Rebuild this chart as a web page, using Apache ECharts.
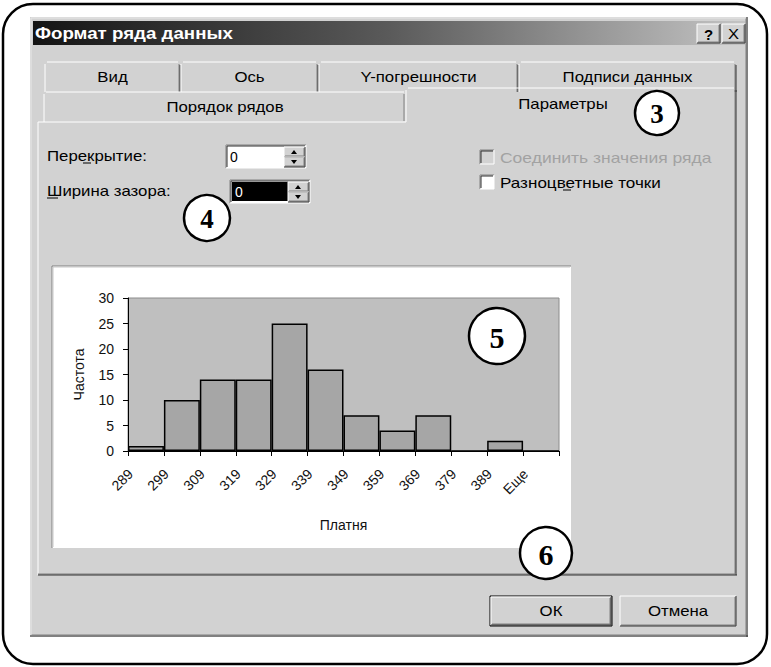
<!DOCTYPE html>
<html><head><meta charset="utf-8">
<script src="https://cdn.jsdelivr.net/npm/echarts@6/dist/echarts.min.js"></script>
<style>html,body{margin:0;padding:0;background:#fff;}#c{width:771px;height:667px;}</style>
</head><body><div id="c"></div>
<script>
// ---- data ----
const categories = ['289','299','309','319','329','339','349','359','369','379','389','Еще'];
const frequencies = [1,10,14,14,25,16,7,4,7,0,2,0];
const yMin = 0, yMax = 30, yStep = 5;
const xTitle = 'Платня';
const yTitle = 'Частота';
const dialogTitle = 'Формат ряда данных';
const tabsRow1 = ['Вид','Ось','Y-погрешности','Подписи данных'];
const tabsRow2 = ['Порядок рядов','Параметры'];
const fieldLabels = ['Перекрытие:','Ширина зазора:'];
const fieldValues = ['0','0'];
const checkLabels = ['Соединить значения ряда','Разноцветные точки'];
const buttonLabels = ['ОК','Отмена'];
const calloutNumbers = ['3','4','5','6'];

// ---- dialog drawing helpers ----
const BG = '#d2d2d2', DARK = '#808080', BLK = '#303030', WHT = '#ffffff';
const UI = '"Liberation Sans", Arial, sans-serif';
const els = [];
function rect(x,y,w,h,fill,stroke,lw,z){els.push({type:'rect',z:z==null?-5:z,silent:true,shape:{x:x,y:y,width:w,height:h},style:{fill:fill,stroke:stroke||null,lineWidth:lw||1}});}
function line(x1,y1,x2,y2,c,lw,z){els.push({type:'line',z:z==null?-4:z,silent:true,shape:{x1:x1,y1:y1,x2:x2,y2:y2},style:{stroke:c,lineWidth:lw||1}});}
function txt(x,y,t,o){o=o||{};els.push({type:'text',x:x,y:y,z:o.z==null?-3:o.z,scaleX:o.sx==null?1.2:o.sx,silent:true,
  style:{text:t,font:o.font||('14px '+UI),fill:o.fill||'#000',align:o.align||'left',textAlign:o.align||'left',verticalAlign:'middle',textVerticalAlign:'middle'}});}
function raised(x,y,w,h,z){
  line(x,y+h,x,y,WHT,1,z);line(x,y,x+w,y,WHT,1,z);
  line(x+w-1,y+1,x+w-1,y+h-1,DARK,1,z);line(x+1,y+h-1,x+w-1,y+h-1,DARK,1,z);
  line(x+w,y,x+w,y+h,BLK,1,z);line(x,y+h,x+w,y+h,BLK,1,z);
}
function sunken(x,y,w,h,z){
  line(x,y+h,x,y,DARK,1,z);line(x,y,x+w,y,DARK,1,z);
  line(x+1,y+h-1,x+1,y+1,BLK,1,z);line(x+1,y+1,x+w-1,y+1,BLK,1,z);
  line(x+w,y,x+w,y+h,WHT,1,z);line(x,y+h,x+w,y+h,WHT,1,z);
}
function tri(cx,cy,up,z){els.push({type:'polygon',z:z==null?-3:z,silent:true,shape:{points:up?[[cx-3,cy+2],[cx+3,cy+2],[cx,cy-2]]:[[cx-3,cy-2],[cx+3,cy-2],[cx,cy+2]]},style:{fill:'#000'}});}

// outer rounded frame
els.push({type:'rect',z:-10,silent:true,shape:{x:3,y:4,width:764,height:660,r:30},style:{fill:'#fff',stroke:'#000',lineWidth:2.5}});
// dialog body
rect(30,17,718,620,BG,null,1,-9);
line(747,17,747,637,BLK,1,-8);line(30,636,748,636,BLK,1,-8);
line(746,18,746,635,DARK,1,-8);line(31,635,746,635,DARK,1,-8);
line(31,18,746,18,'#e8e8e8',1,-8);line(31,18,31,635,'#e8e8e8',1,-8);
// title bar
els.push({type:'rect',z:-8,silent:true,shape:{x:33,y:21,width:712,height:24},
  style:{fill:new echarts.graphic.LinearGradient(0,0,1,0,[{offset:0,color:'#141414'},{offset:0.5,color:'#5a5a5a'},{offset:1,color:'#c4c4c4'}])}});
txt(35,33,dialogTitle,{font:'bold 16px '+UI,fill:'#fff',sx:1.17});
// ? and X buttons
rect(697,24,23,19,BG,null,1,-7);raised(697,24,23,19,-6);
rect(722,24,23,19,BG,null,1,-7);raised(722,24,23,19,-6);
txt(708.5,34,'?',{font:'bold 15px '+UI,align:'center',sx:1});
txt(733.5,34,'X',{font:'15px '+UI,align:'center',sx:1.1});

// tabs row 1
const r1 = [44,180,318,518,736];
for(let i=0;i<4;i++){
  const x1=r1[i]+1,x2=r1[i+1];
  line(x1,92,x1,64,WHT,1,-6);line(x1+2,62,x2-2,62,WHT,1,-6);
  line(x2-1,64,x2-1,92,DARK,1,-6);line(x2,65,x2,92,BLK,1,-6);
  txt((x1+x2)/2,77,tabsRow1[i],{align:'center'});
}
// tabs row 2
line(44,122,44,94,WHT,1,-6);line(46,92,404,92,WHT,1,-6);line(404,94,404,121,DARK,1,-6);
txt(225,107,tabsRow2[0],{align:'center'});
// selected tab
rect(406,88,330,36,BG,null,1,-7);
line(406,122,406,90,WHT,1,-6);line(408,88,734,88,WHT,1,-6);
line(735,90,735,574,DARK,1,-6);line(736,90,736,575,BLK,1,-6);
txt(563,104,tabsRow2[1],{align:'center'});
// panel
line(38,122,406,122,WHT,1,-6);line(38,122,38,575,WHT,1,-6);
line(38,574,736,574,DARK,1,-6);line(38,575,737,575,BLK,1,-6);

// fields
txt(47,156,fieldLabels[0]);
line(83,163,91,163,'#000',1,-3);
txt(47,191,fieldLabels[1]);
line(47,198,58,198,'#000',1,-3);
// spin box 1
rect(226,145,80,23,'#fff',null,1,-7);sunken(226,145,80,23,-6);
txt(230,157,fieldValues[0],{sx:1});
rect(284,147,21,10,BG,null,1,-6);raised(284,147,21,10,-5);tri(294,152,true,-4);
rect(284,157,21,10,BG,null,1,-6);raised(284,157,21,10,-5);tri(294,162,false,-4);
// spin box 2 (selected)
rect(230,180,80,23,'#fff',null,1,-7);sunken(230,180,80,23,-6);
rect(232,182,56,19,'#000',null,1,-6);
txt(235,192,fieldValues[1],{fill:'#fff',sx:1});
rect(288,182,21,10,BG,null,1,-6);raised(288,182,21,10,-5);tri(298,187,true,-4);
rect(288,192,21,10,BG,null,1,-6);raised(288,192,21,10,-5);tri(298,197,false,-4);
// checkboxes
rect(480,150,14,14,BG,null,1,-7);sunken(480,150,14,14,-6);
txt(500,158,checkLabels[0],{fill:'#a2a2a2',sx:1.25});
rect(480,175,14,14,'#fff',null,1,-7);sunken(480,175,14,14,-6);
txt(500,183,checkLabels[1],{sx:1.22});
line(563,190,571,190,'#000',1,-3);

// chart preview box
rect(52,266,519,282,'#fff',null,1,-7);
line(52,266,571,266,DARK,1,-6);line(52,266,52,548,DARK,1,-6);
line(53,267,570,267,'#c8c8c8',1,-6);line(53,267,53,547,'#c8c8c8',1,-6);

// buttons
rect(490,596,122,30,BG,null,1,-7);
els.push({type:'rect',z:-6,silent:true,shape:{x:490,y:596,width:122,height:30},style:{fill:null,stroke:'#000',lineWidth:1}});
raised(491,597,120,28,-5);
txt(551,611,buttonLabels[0],{align:'center'});
rect(620,596,116,30,BG,null,1,-7);raised(620,596,116,30,-5);
txt(678,611,buttonLabels[1],{align:'center'});

// callout circles
const callouts=[[657,113,22],[207,218,23],[497,336,28],[546,553,26]];
callouts.forEach(function(c,i){
  els.push({type:'circle',z:100,silent:true,shape:{cx:c[0],cy:c[1],r:c[2]},style:{fill:'#fff',stroke:'#000',lineWidth:2.5}});
  els.push({type:'text',z:101,silent:true,x:c[0],y:c[1]+1,style:{text:calloutNumbers[i],font:'bold '+(c[2]>25?30:27)+'px "Liberation Serif", "DejaVu Serif", serif',fill:'#000',align:'center',textAlign:'center',verticalAlign:'middle',textVerticalAlign:'middle'}});
});

const chart = echarts.init(document.getElementById('c'), null, {renderer:'svg', width:771, height:667});
chart.setOption({
  animation:false,
  backgroundColor:'#fff',
  textStyle:{fontFamily:UI},
  graphic:{elements:els},
  grid:{left:128,top:298,width:431,height:153,show:true,backgroundColor:'#bfbfbf',borderColor:'#8c8c8c',borderWidth:1,containLabel:false},
  xAxis:{type:'category',data:categories,
    axisLine:{lineStyle:{color:'#000',width:1}},
    axisTick:{show:true,alignWithLabel:false,length:5,lineStyle:{color:'#000'}},
    axisLabel:{interval:0,rotate:45,fontSize:14,color:'#111',margin:5,padding:[0,22,0,0]},
    name:xTitle,nameLocation:'middle',nameGap:67,nameTextStyle:{fontSize:14,color:'#111'}},
  yAxis:{type:'value',min:yMin,max:yMax,interval:yStep,
    axisLine:{show:true,lineStyle:{color:'#000',width:1}},
    axisTick:{show:true,length:5,lineStyle:{color:'#000'}},
    splitLine:{show:false},
    axisLabel:{fontSize:14,color:'#111',margin:14},
    name:yTitle,nameLocation:'middle',nameGap:42,nameRotate:90,nameTextStyle:{fontSize:14,color:'#111'}},
  series:[{type:'bar',data:frequencies,barCategoryGap:'0%',
    itemStyle:{color:'#a6a6a6',borderColor:'#000',borderWidth:1.5}}]
});
</script></body></html>
